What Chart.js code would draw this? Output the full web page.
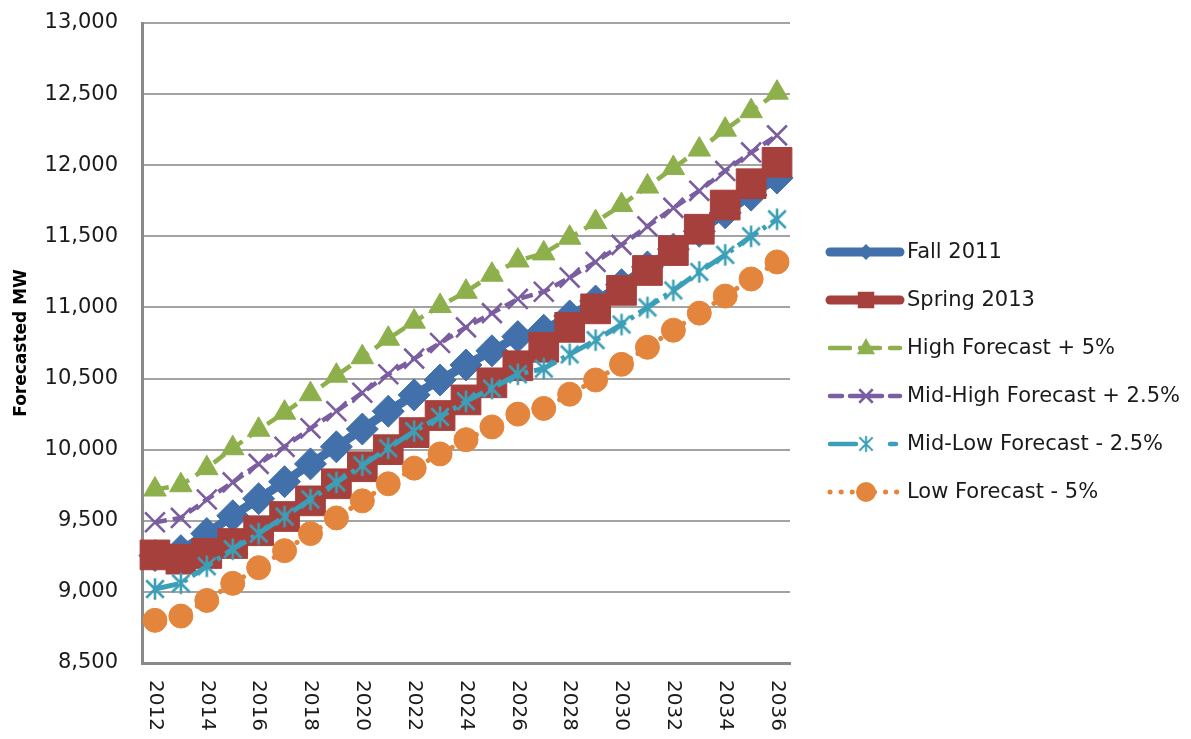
<!DOCTYPE html>
<html>
<head>
<meta charset="utf-8">
<title>Forecasted MW</title>
<script src="https://cdn.jsdelivr.net/npm/chart.js@4.4.1/dist/chart.umd.min.js"></script>
<style>
  html, body { margin: 0; padding: 0; background: #ffffff; }
  #wrap { width: 1191px; height: 739px; position: relative; }
</style>
</head>
<body>
<div id="wrap"><canvas id="chart" width="1191" height="739"></canvas></div>
<script>
// Forecast years and the labelled subset along the horizontal axis
const years = ['2012','2013','2014','2015','2016','2017','2018','2019','2020','2021','2022','2023','2024',
               '2025','2026','2027','2028','2029','2030','2031','2032','2033','2034','2035','2036'];
const yearTicks = ['2012','2014','2016','2018','2020','2022','2024','2026','2028','2030','2032','2034','2036'];

// Forecasted MW per scenario
const fall2011 = [9255, 9290, 9410, 9535, 9655, 9775, 9900, 10020, 10145, 10270, 10385, 10490, 10595,
                  10695, 10795, 10840, 10940, 11045, 11160, 11285, 11410, 11535, 11665, 11790, 11910];
const spring2013 = [9260, 9230, 9270, 9340, 9430, 9530, 9640, 9760, 9880, 10000, 10120, 10240, 10350,
                    10470, 10590, 10720, 10860, 10990, 11120, 11260, 11400, 11550, 11720, 11870, 12020];
const highPlus5 = [9720, 9750, 9870, 10010, 10140, 10260, 10390, 10520, 10650, 10780, 10900, 11010, 11110,
                   11230, 11330, 11380, 11490, 11600, 11720, 11850, 11980, 12110, 12250, 12380, 12510];
const midHighPlus25 = [9490, 9520, 9650, 9770, 9900, 10020, 10150, 10270, 10400, 10530, 10640, 10750, 10860,
                       10960, 11060, 11110, 11210, 11320, 11440, 11570, 11700, 11820, 11960, 12090, 12210];
const midLowMinus25 = [9020, 9060, 9180, 9300, 9410, 9530, 9650, 9770, 9890, 10010, 10130, 10230, 10340,
                       10430, 10530, 10570, 10670, 10770, 10880, 11000, 11120, 11250, 11370, 11500, 11620];
const lowMinus5 = [8800, 8830, 8940, 9060, 9170, 9290, 9410, 9520, 9640, 9760, 9870, 9970, 10070,
                   10160, 10250, 10290, 10390, 10490, 10600, 10720, 10840, 10960, 11080, 11200, 11320];

// Value axis ticks
const yMin = 8500, yMax = 13000, yStep = 500;

const FONT = 'DejaVu Sans';
const COLORS = {
  blue: '#4170AB', red: '#A6403D', green: '#8DB04C', purple: '#7B5E9F', teal: '#3C9FB8', orange: '#E3853C'
};

// Six-armed asterisk marker (vertical bar plus an X)
function asteriskMarker(size, color, lw) {
  const c = document.createElement('canvas');
  c.width = size; c.height = size;
  const g = c.getContext('2d');
  const m = size / 2, r = size / 2 - lw / 2;
  g.strokeStyle = color; g.lineWidth = lw; g.lineCap = 'butt';
  g.beginPath();
  g.moveTo(m, m - r); g.lineTo(m, m + r);
  const d = r * 0.82;
  g.moveTo(m - d, m - d); g.lineTo(m + d, m + d);
  g.moveTo(m - d, m + d); g.lineTo(m + d, m - d);
  g.stroke();
  return c;
}
const starMark = asteriskMarker(24, COLORS.teal, 2.6);

const datasets = [
  { label: 'Fall 2011', data: fall2011, borderColor: COLORS.blue, backgroundColor: COLORS.blue,
    borderWidth: 9, pointStyle: 'rectRot', pointRadius: 16, pointBorderWidth: 1, order: 6,
    legendDash: [], legendCap: 'round', legendWidth: 9, legendRadius: 8 },
  { label: 'Spring 2013', data: spring2013, borderColor: COLORS.red, backgroundColor: COLORS.red,
    borderWidth: 9, pointStyle: 'rect', pointRadius: 21, pointBorderWidth: 1, order: 5,
    legendDash: [], legendCap: 'round', legendWidth: 9, legendRadius: 11 },
  { label: 'High Forecast + 5%', data: highPlus5, borderColor: COLORS.green, backgroundColor: COLORS.green,
    borderWidth: 4.5, borderDash: [14, 8], pointStyle: 'triangle', pointRadius: 13, pointBorderWidth: 1, order: 4,
    legendDash: [20, 10], legendCap: 'round', legendWidth: 4.5, legendRadius: 10 },
  { label: 'Mid-High Forecast + 2.5%', data: midHighPlus25, borderColor: COLORS.purple, backgroundColor: COLORS.purple,
    borderWidth: 4.5, borderDash: [12, 6], pointStyle: 'crossRot', pointRadius: 14, pointBorderWidth: 2.6, order: 3,
    legendDash: [12, 8], legendCap: 'round', legendWidth: 4.5, legendRadius: 9 },
  { label: 'Mid-Low Forecast - 2.5%', data: midLowMinus25, borderColor: COLORS.teal, backgroundColor: COLORS.teal,
    borderWidth: 5, borderDash: [24, 6, 4, 6], pointStyle: starMark, pointRadius: 12, order: 2,
    legendDash: [26, 34, 6, 40], legendCap: 'round', legendWidth: 4.5, legendRadius: 9 },
  { label: 'Low Forecast - 5%', data: lowMinus5, borderColor: COLORS.orange, backgroundColor: COLORS.orange,
    borderWidth: 5, borderDash: [0.1, 9], borderCapStyle: 'round', pointStyle: 'circle', pointRadius: 12,
    pointBorderWidth: 1, order: 1,
    legendDash: [0.1, 11], legendCap: 'round', legendWidth: 5, legendRadius: 10 }
];
datasets.forEach(d => { d.tension = 0; d.fill = false; d.clip = false; d.pointBorderColor = d.borderColor;
  d.pointBackgroundColor = d.borderColor; d.borderJoinStyle = 'round'; });

// Marker drawing for the side key
function keyMarker(ctx, ds, x, y) {
  const r = ds.legendRadius;
  ctx.save();
  ctx.fillStyle = ds.borderColor; ctx.strokeStyle = ds.borderColor;
  ctx.setLineDash([]);
  ctx.beginPath();
  if (ds.pointStyle === 'rectRot') {
    ctx.moveTo(x, y - r); ctx.lineTo(x + r, y); ctx.lineTo(x, y + r); ctx.lineTo(x - r, y); ctx.closePath(); ctx.fill();
  } else if (ds.pointStyle === 'rect') {
    const s = r * 0.75; ctx.rect(x - s, y - s, 2 * s, 2 * s); ctx.fill();
  } else if (ds.pointStyle === 'triangle') {
    ctx.moveTo(x, y - r); ctx.lineTo(x + r * 0.9, y + r * 0.62); ctx.lineTo(x - r * 0.9, y + r * 0.62); ctx.closePath(); ctx.fill();
  } else if (ds.pointStyle === 'crossRot') {
    const d = r * 0.75; ctx.lineWidth = 2.6;
    ctx.moveTo(x - d, y - d); ctx.lineTo(x + d, y + d); ctx.moveTo(x - d, y + d); ctx.lineTo(x + d, y - d); ctx.stroke();
  } else if (ds.pointStyle === 'circle') {
    ctx.arc(x, y, r, 0, Math.PI * 2); ctx.fill();
  } else {
    ctx.drawImage(ds.pointStyle, x - r, y - r, 2 * r, 2 * r);
  }
  ctx.restore();
}

const sideKey = {
  id: 'sideKey',
  afterDraw(chart) {
    const ctx = chart.ctx;
    const x0 = 830, x1 = 900, mx = 866, tx = 907, top = 252, gap = 48;
    ctx.save();
    datasets.forEach((ds, i) => {
      const y = top + i * gap;
      ctx.save();
      ctx.strokeStyle = ds.borderColor; ctx.lineWidth = ds.legendWidth; ctx.lineCap = ds.legendCap;
      ctx.setLineDash(ds.legendDash);
      ctx.beginPath(); ctx.moveTo(x0, y); ctx.lineTo(x1, y); ctx.stroke();
      ctx.restore();
      keyMarker(ctx, ds, mx, y);
      ctx.fillStyle = '#1a1a1a'; ctx.font = '21px "' + FONT + '"';
      ctx.textAlign = 'left'; ctx.textBaseline = 'middle';
      ctx.fillText(ds.label, tx, y + 1);
    });
    ctx.restore();
  }
};

// Year labels on the category axis, turned to read top-down
const yearLabels = {
  id: 'yearLabels',
  afterDraw(chart) {
    const xs = chart.scales.x, ctx = chart.ctx;
    ctx.save();
    ctx.fillStyle = '#1a1a1a'; ctx.font = '20px "' + FONT + '"';
    ctx.textAlign = 'left'; ctx.textBaseline = 'middle';
    yearTicks.forEach(lbl => {
      const px = xs.getPixelForValue(years.indexOf(lbl));
      ctx.save();
      ctx.translate(px, xs.top + 17);
      ctx.rotate(Math.PI / 2);
      ctx.fillText(lbl, 0, 0);
      ctx.restore();
    });
    ctx.restore();
  }
};

new Chart(document.getElementById('chart'), {
  type: 'line',
  data: { labels: years, datasets },
  options: {
    responsive: false,
    devicePixelRatio: 1,
    animation: false,
    layout: { padding: { left: 0, right: 401, top: 23, bottom: 0 } },
    plugins: { legend: { display: false }, tooltip: { enabled: false } },
    scales: {
      x: {
        offset: true,
        grid: { display: false, drawTicks: false },
        border: { display: true, color: '#8a8a8a', width: 3 },
        ticks: { display: false },
        afterFit: s => { s.height = 76; s.paddingLeft = 0; s.paddingRight = 0; }
      },
      y: {
        min: yMin, max: yMax,
        grid: { color: '#a3a3a3', lineWidth: 2, drawTicks: false },
        border: { display: true, color: '#8a8a8a', width: 3 },
        ticks: {
          stepSize: yStep, padding: 24, color: '#1a1a1a',
          font: { family: FONT, size: 21 },
          callback: v => Number(v).toLocaleString('en-US')
        },
        title: {
          display: true, text: 'Forecasted MW', color: '#000000',
          font: { family: FONT, size: 17, weight: 'bold' },
          padding: { top: 11, bottom: 0 }
        },
        afterFit: s => { s.width = 142; s.paddingTop = 0; s.paddingBottom = 0; }
      }
    }
  },
  plugins: [sideKey, yearLabels]
});
</script>
</body>
</html>
